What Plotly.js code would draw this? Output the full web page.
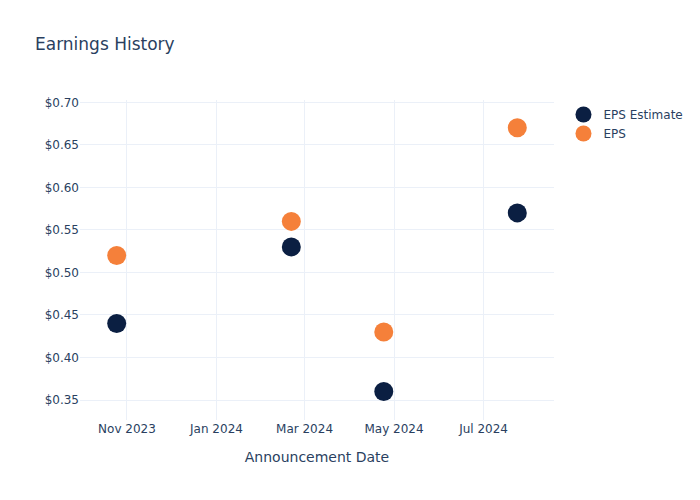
<!DOCTYPE html>
<html>
<head>
<meta charset="utf-8">
<script src="https://cdn.plot.ly/plotly-3.0.1.min.js"></script>
<style>html,body{margin:0;padding:0;background:#fff;}#chart{width:700px;height:500px;}</style>
</head>
<body>
<div id="chart"></div>
<script>
const dates = ["2023-10-25", "2024-02-21", "2024-04-24", "2024-07-24"];
const epsEstimate = [0.44, 0.53, 0.36, 0.57];
const eps = [0.52, 0.56, 0.43, 0.67];
const seriesNames = ["EPS Estimate", "EPS"];
const seriesColors = ["#0b1f42", "#f5803a"];

const traces = [
  {x: dates, y: epsEstimate, name: seriesNames[0], type: "scatter", mode: "markers",
   marker: {size: 19, color: seriesColors[0]}},
  {x: dates, y: eps, name: seriesNames[1], type: "scatter", mode: "markers",
   marker: {size: 19, color: seriesColors[1]}}
];

const layout = {
  width: 700, height: 500,
  font: {family: "DejaVu Sans, sans-serif", color: "#2a3f5f"},
  title: {text: "Earnings History", x: 0.05, font: {size: 17}},
  paper_bgcolor: "#fff", plot_bgcolor: "#fff",
  margin: {l: 80, r: 80, t: 100, b: 80},
  xaxis: {
    title: {text: "Announcement Date", standoff: 17},
    type: "date",
    gridcolor: "#EBF0F8", zeroline: false,
    tickformat: "%b %Y", dtick: "M2",
    range: ["2023-09-30", "2024-08-18"]
  },
  yaxis: {
    gridcolor: "#EBF0F8", zeroline: false,
    tickprefix: "$", tickformat: ".2f", dtick: 0.05,
    range: [0.3265, 0.7027]
  },
  legend: {font: {size: 12}}
};

Plotly.newPlot("chart", traces, layout, {displayModeBar: false});
</script>
</body>
</html>
